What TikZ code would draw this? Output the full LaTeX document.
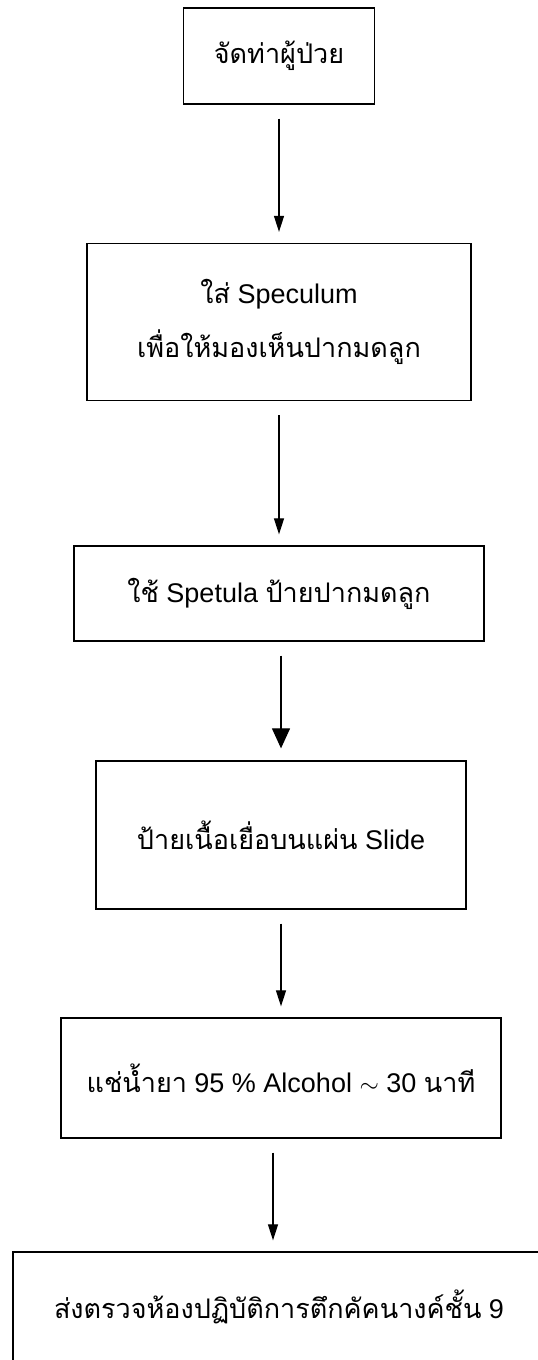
\documentclass[tikz,border=0pt]{standalone}
\usepackage{fontspec}
\setmainfont{Liberation Sans}
\newfontfamily\thfont[Script=Thai]{Loma}
\usetikzlibrary{arrows.meta}
\begin{document}
\begin{tikzpicture}[x=1pt,y=-1pt,
  box/.style={draw, line width=1.3pt, inner sep=0pt, align=center,
    font=\fontsize{27}{54}\selectfont},
  arr/.style={line width=1.2pt, shorten <=14pt, shorten >=11pt,
    -{Triangle[length=16pt,width=10pt]}},
  bigarr/.style={line width=1.2pt, shorten <=14pt, shorten >=12pt,
    -{Triangle[length=20pt,width=18pt]}}]
\useasboundingbox (0,0) rectangle (538,1360);
\clip (0,0) rectangle (538,1360);
\node[box, minimum width=191pt, minimum height=96pt] (b1) at (279,56)
  {{\thfont จัดท่าผู้ป่วย}};
\node[box, minimum width=384pt, minimum height=157pt] (b2) at (279,322)
  {{\thfont ใส่} Speculum\\{\thfont เพื่อให้มองเห็นปากมดลูก}};
\node[box, minimum width=410pt, minimum height=95pt] (b3) at (279,593.5)
  {{\thfont ใช้} Spetula {\thfont ป้ายปากมดลูก}};
\node[box, minimum width=370pt, minimum height=148pt] (b4) at (281,835)
  {{\thfont ป้ายเนื้อเยื่อบนแผ่น} Slide};
\node[box, minimum width=440pt, minimum height=120pt] (b5) at (281,1078)
  {{\thfont แช่น้ำยา} 95 \% Alcohol $\sim$ 30 {\thfont นาที}};
\node[box, minimum width=532pt, minimum height=110pt] (b6) at (279,1307)
  {{\thfont ส่งตรวจห้องปฏิบัติการตึกคัคนางค์ชั้น} 9};
\draw[arr] (b1) -- (b2);
\draw[arr] (b2) -- (b3);
\draw[bigarr] (b3.south -| b4.north) -- (b4.north);
\draw[arr] (b4) -- (b5.north);
\draw[arr] (b5.south) ++(-8,0) coordinate (a5) (a5) -- (a5 |- b6.north);
\end{tikzpicture}
\end{document}
